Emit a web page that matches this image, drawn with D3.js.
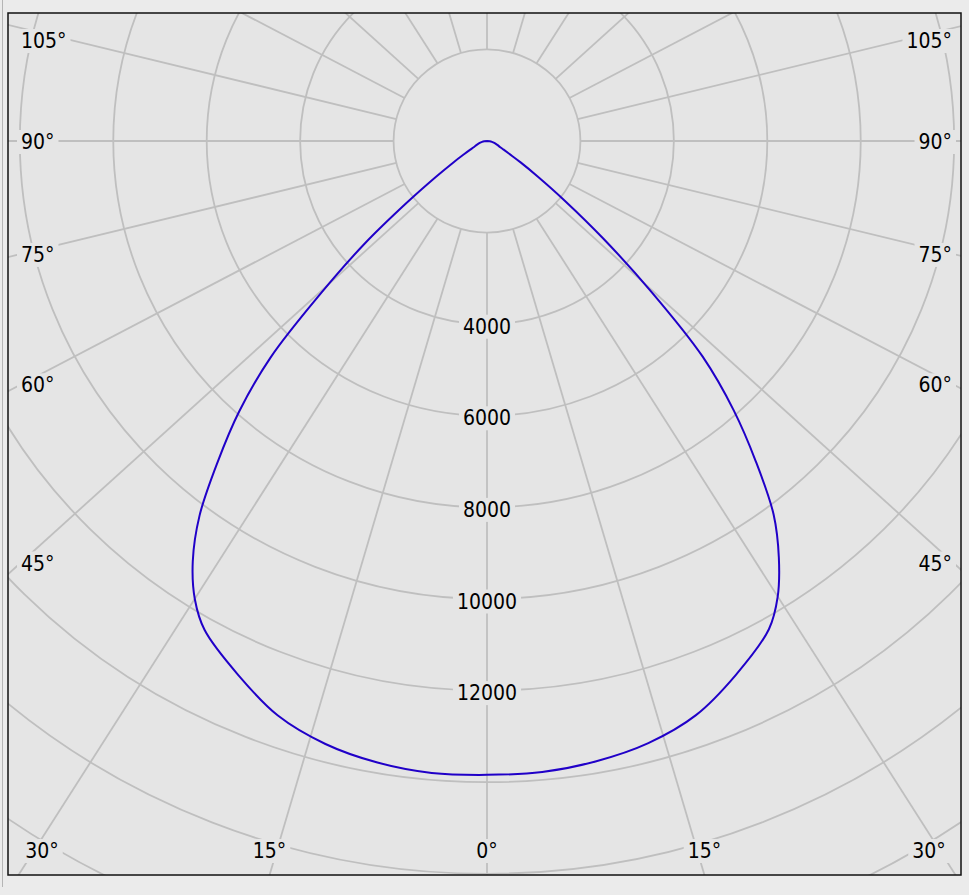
<!DOCTYPE html>
<html>
<head>
<meta charset="utf-8">
<script src="https://cdn.jsdelivr.net/npm/d3@7"></script>
<style>
  body { margin: 0; background: #ebebeb; }
  svg { display: block; }
  text { font-family: "DejaVu Sans Condensed", "Liberation Sans", sans-serif; font-size: 21px; fill: #000; }
</style>
</head>
<body>
<svg id="chart" width="969" height="895"></svg>
<script>
// gamma angles in degrees from nadir
var angles = [0, 5, 10, 15, 20, 25, 30, 32.5, 35, 37.5, 40, 42.5, 45, 47.5, 50, 52.5, 55, 57.5, 60, 62.5, 65, 70, 75, 80, 85, 90];
// luminous intensity (cd), left half-plane
var c180 = [13840, 13850, 13780, 13630, 13350, 12860, 12330, 11870, 11200, 10310, 9150, 8010, 6680, 4910, 3490, 2180, 1350, 870, 580, 420, 320, 230, 165, 110, 60, 0];
// luminous intensity (cd), right half-plane
var c0 = [13840, 13830, 13750, 13610, 13340, 12860, 12310, 11810, 11110, 10280, 9130, 7970, 6660, 4850, 3320, 2140, 1350, 870, 560, 410, 320, 230, 165, 110, 60, 0];

var rings = [2000, 4000, 6000, 8000, 10000, 12000, 14000, 16000, 18000, 20000, 22000, 24000];
var ringLabels = [4000, 6000, 8000, 10000, 12000];
var spokes = [0, 15, 30, 45, 60, 75, 90, 105, 120, 135, 150, 165, 180, 195, 210, 225, 240, 255, 270, 285, 300, 315, 330, 345];
var sideLabels = [45, 60, 75, 90, 105];
var bottomLabels = [0, 15, 30];

var svg = d3.select("#chart");
var box = {x0: 8, y0: 13, x1: 961, y1: 875};
var cx = 487, cy = 141;
var plotW = box.x1 - box.x0, plotH = box.y1 - box.y0;
var ringStretch = 1.02;
var bg = "#e5e5e5", gridColor = "#bfbfbf";

var r = d3.scaleLinear().domain([0, 1000]).range([0, 45.8]);
var rad = function (deg) { return deg * Math.PI / 180; };

// window frame line
svg.append("line").attr("x1", 2.5).attr("x2", 2.5).attr("y1", 0).attr("y2", 887)
  .attr("stroke", "#b5b5b5").attr("stroke-width", 1);

svg.append("defs").append("clipPath").attr("id", "plotclip")
  .append("rect").attr("x", box.x0).attr("y", box.y0).attr("width", plotW).attr("height", plotH);

svg.append("rect").attr("x", box.x0).attr("y", box.y0).attr("width", plotW).attr("height", plotH)
  .attr("fill", bg);

var grid = svg.append("g").attr("clip-path", "url(#plotclip)");

// rings
grid.selectAll("ellipse.ring").data(rings).enter().append("ellipse")
  .attr("class", "ring")
  .attr("cx", cx).attr("cy", cy)
  .attr("rx", function (d) { return r(d) * ringStretch; })
  .attr("ry", function (d) { return r(d); })
  .attr("fill", "none").attr("stroke", gridColor).attr("stroke-width", 1.8);

// spokes from the inner ring outwards
var innerRy = r(rings[0]), innerRx = innerRy * ringStretch;
grid.selectAll("line.spoke").data(spokes).enter().append("line")
  .attr("class", "spoke")
  .each(function (d) {
    var dx = plotW * Math.sin(rad(d)), dy = plotH * Math.cos(rad(d));
    var t0 = 1 / Math.sqrt(Math.pow(dx / innerRx, 2) + Math.pow(dy / innerRy, 2));
    d3.select(this)
      .attr("x1", cx + dx * t0).attr("y1", cy + dy * t0)
      .attr("x2", cx + dx * 2).attr("y2", cy + dy * 2);
  })
  .attr("stroke", gridColor).attr("stroke-width", 1.8);

// intensity curve
var pts = [];
for (var i = angles.length - 1; i >= 0; i--) pts.push({phi: Math.PI + rad(angles[i]), v: c180[i]});
for (var j = 1; j < angles.length; j++) pts.push({phi: Math.PI - rad(angles[j]), v: c0[j]});

var line = d3.lineRadial()
  .angle(function (d) { return d.phi; })
  .radius(function (d) { return r(d.v); })
  .curve(d3.curveCatmullRom);

grid.append("path")
  .attr("transform", "translate(" + cx + "," + cy + ")")
  .attr("d", line(pts))
  .attr("fill", "none").attr("stroke", "#2000c8").attr("stroke-width", 2);

// labels with a background patch
function label(x, y, txt, anchor) {
  var g = svg.append("g");
  var t = g.append("text").attr("x", x).attr("y", y)
    .attr("text-anchor", anchor).attr("dominant-baseline", "central").text(txt);
  var b = t.node().getBBox();
  g.insert("rect", "text").attr("x", b.x - 4).attr("y", b.y).attr("width", b.width + 8).attr("height", b.height)
    .attr("fill", bg);
}

ringLabels.forEach(function (v) { label(cx, cy + r(v) + 2.5, v, "middle"); });

// side labels sit where the spoke crosses a line just inside the frame
var sideDist = cx - (box.x0 + 13);
sideLabels.forEach(function (a) {
  var s = Math.sin(rad(a)), c = Math.cos(rad(a));
  var y = cy + plotH * c * sideDist / (plotW * s) + 1;
  y = Math.max(y, box.y0 + 28);
  label(box.x0 + 13, y, a + "°", "start");
  label(box.x1 - 9, y, a + "°", "end");
});

bottomLabels.forEach(function (a) {
  var tt = (box.y1 - cy) / (plotH * Math.cos(rad(a)));
  var off = plotW * Math.sin(rad(a)) * tt;
  var y = box.y1 - 24;
  label(Math.max(cx - off, box.x0 + 34), y, a + "°", "middle");
  if (a > 0) label(Math.min(cx + off, box.x1 - 32), y, a + "°", "middle");
});

// frame
svg.append("rect").attr("x", box.x0).attr("y", box.y0).attr("width", plotW).attr("height", plotH)
  .attr("fill", "none").attr("stroke", "#111").attr("stroke-width", 1.5);
</script>
</body>
</html>
